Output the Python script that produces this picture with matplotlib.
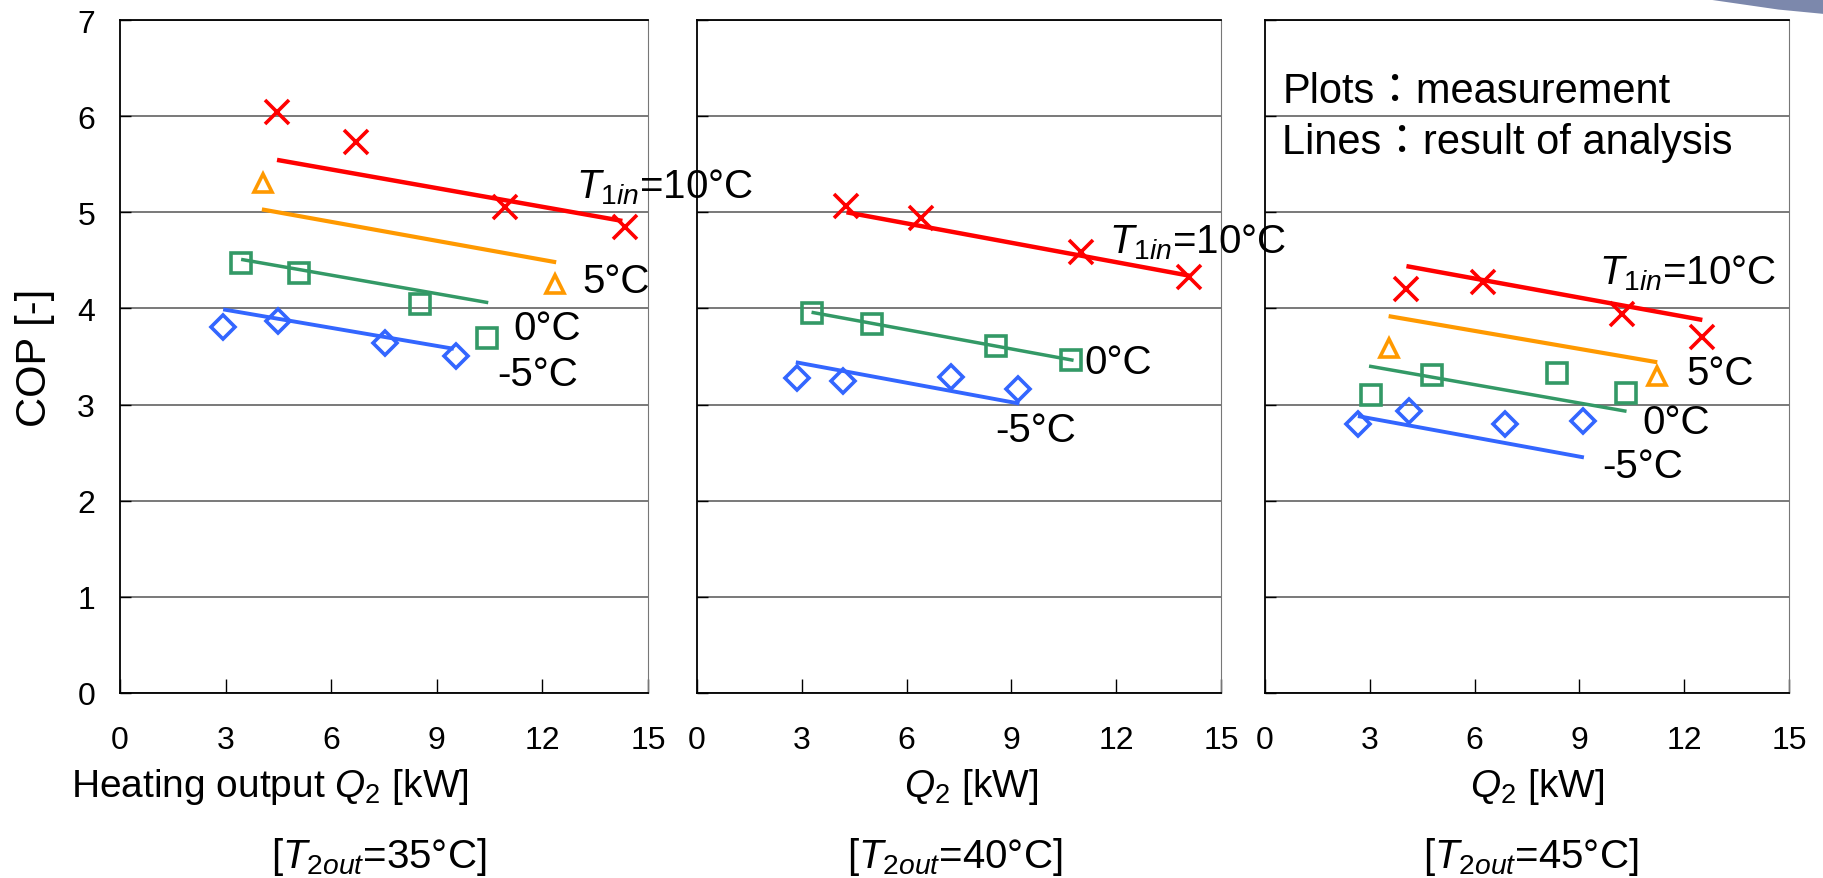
import matplotlib
matplotlib.use("Agg")
import matplotlib.pyplot as plt
from matplotlib.patches import Polygon

plt.rcParams['font.family'] = ['Liberation Sans', 'Noto Sans CJK JP', 'DejaVu Sans']
plt.rcParams['mathtext.fontset'] = 'custom'
plt.rcParams['mathtext.rm'] = 'Liberation Sans'
plt.rcParams['mathtext.it'] = 'Liberation Sans:italic'

# measurements (markers) and analysis lines (two end points) per outlet temperature
# --- T2out = 35 C
p35_m5_x = [2.93, 4.49, 7.53, 9.53]
p35_m5_y = [3.81, 3.87, 3.64, 3.51]
p35_0_x = [3.44, 5.09, 8.52, 10.43]
p35_0_y = [4.47, 4.37, 4.05, 3.69]
p35_5_x = [4.05, 12.37]
p35_5_y = [5.30, 4.25]
p35_10_x = [4.46, 6.69, 10.95, 14.34]
p35_10_y = [6.04, 5.73, 5.05, 4.85]
l35_m5_x, l35_m5_y = [2.93, 9.48], [3.99, 3.58]
l35_0_x, l35_0_y = [3.44, 10.46], [4.51, 4.06]
l35_5_x, l35_5_y = [4.03, 12.39], [5.03, 4.48]
l35_10_x, l35_10_y = [4.46, 14.27], [5.545, 4.91]

# --- T2out = 40 C
p40_m5_x = [2.85, 4.17, 7.26, 9.20]
p40_m5_y = [3.28, 3.24, 3.29, 3.16]
p40_0_x = [3.28, 5.02, 8.55, 10.71]
p40_0_y = [3.95, 3.84, 3.61, 3.46]
p40_10_x = [4.28, 6.42, 11.00, 14.08]
p40_10_y = [5.07, 4.94, 4.59, 4.33]
l40_m5_x, l40_m5_y = [2.83, 9.23], [3.44, 3.01]
l40_0_x, l40_0_y = [3.28, 10.78], [3.96, 3.46]
l40_10_x, l40_10_y = [4.28, 14.10], [5.00, 4.34]

# --- T2out = 45 C
p45_m5_x = [2.66, 4.12, 6.88, 9.10]
p45_m5_y = [2.80, 2.93, 2.80, 2.83]
p45_0_x = [3.03, 4.79, 8.36, 10.33]
p45_0_y = [3.10, 3.31, 3.33, 3.12]
p45_5_x = [3.54, 11.23]
p45_5_y = [3.59, 3.30]
p45_10_x = [4.05, 6.23, 10.23, 12.52]
p45_10_y = [4.20, 4.27, 3.94, 3.70]
l45_m5_x, l45_m5_y = [2.66, 9.13], [2.88, 2.45]
l45_0_x, l45_0_y = [2.98, 10.35], [3.40, 2.93]
l45_5_x, l45_5_y = [3.54, 11.23], [3.92, 3.44]
l45_10_x, l45_10_y = [4.05, 12.52], [4.44, 3.88]

x_ticks = [0, 3, 6, 9, 12, 15]
y_ticks = [0, 1, 2, 3, 4, 5, 6, 7]
conditions = ["35", "40", "45"]

RED = "#ff0000"
ORANGE = "#ff9900"
GREEN = "#339966"
BLUE = "#3366ff"

fig = plt.figure(figsize=(18.24, 8.79), dpi=100)
lefts = [0.0658, 0.3821, 0.6935]
widths = [0.2895, 0.2873, 0.2873]
axes = [fig.add_axes([lefts[i], 0.2105, widths[i], 0.7656]) for i in range(3)]

def draw_series(ax, px, py, lx, ly, color, marker, ms, lw):
    ax.plot(lx, ly, color=color, lw=lw, solid_capstyle='butt', zorder=3)
    ax.plot(px, py, ls='none', marker=marker, ms=ms, mfc='none', mec=color, mew=2.6, zorder=4)

ax = axes[0]
draw_series(ax, p35_m5_x, p35_m5_y, l35_m5_x, l35_m5_y, BLUE, 'D', 12, 2.8)
draw_series(ax, p35_0_x, p35_0_y, l35_0_x, l35_0_y, GREEN, 's', 14, 2.5)
draw_series(ax, p35_5_x, p35_5_y, l35_5_x, l35_5_y, ORANGE, '^', 13, 3)
draw_series(ax, p35_10_x, p35_10_y, l35_10_x, l35_10_y, RED, 'x', 17, 3.2)

ax = axes[1]
draw_series(ax, p40_m5_x, p40_m5_y, l40_m5_x, l40_m5_y, BLUE, 'D', 12, 2.8)
draw_series(ax, p40_0_x, p40_0_y, l40_0_x, l40_0_y, GREEN, 's', 14, 2.5)
draw_series(ax, p40_10_x, p40_10_y, l40_10_x, l40_10_y, RED, 'x', 17, 3.2)

ax = axes[2]
draw_series(ax, p45_m5_x, p45_m5_y, l45_m5_x, l45_m5_y, BLUE, 'D', 12, 2.8)
draw_series(ax, p45_0_x, p45_0_y, l45_0_x, l45_0_y, GREEN, 's', 14, 2.5)
draw_series(ax, p45_5_x, p45_5_y, l45_5_x, l45_5_y, ORANGE, '^', 13, 3)
draw_series(ax, p45_10_x, p45_10_y, l45_10_x, l45_10_y, RED, 'x', 17, 3.2)

for i, ax in enumerate(axes):
    ax.set_xlim(0, 15)
    ax.set_ylim(0, 7)
    ax.set_xticks(x_ticks)
    ax.set_yticks(y_ticks)
    ax.patch.set_facecolor('none')
    ax.grid(axis='y', color='#555555', lw=1.1, zorder=1)
    ax.set_axisbelow(True)
    ax.tick_params(axis='x', direction='in', length=10, width=1, labelsize=23, pad=23)
    ax.tick_params(axis='y', direction='in', length=8, width=1, labelsize=23, pad=18)
    for s in ['left', 'top', 'bottom']:
        ax.spines[s].set_color('black')
        ax.spines[s].set_linewidth(1.3)
    ax.spines['right'].set_color('#777777')
    if i > 0:
        ax.tick_params(axis='y', labelleft=False)
    ax.text([0.284, 0.523, 0.519][i], -0.138,
            ("Heating output " if i == 0 else "") + r"$Q_2$ [kW]",
            transform=ax.transAxes, ha='center', va='center', fontsize=28)
    ax.text([0.490, 0.491, 0.508][i], -0.242,
            "[" + r"$T_{2out}$" + "=" + conditions[i] + "°C]",
            transform=ax.transAxes, ha='center', va='center', fontsize=29)

axes[0].set_ylabel("COP [-]", fontsize=30, labelpad=16)

lab = dict(fontsize=29, va='center', ha='left', zorder=5, clip_on=False)
axes[0].text(12.95, 5.27, r"$T_{1in}$=10°C", **lab)
axes[0].text(13.14, 4.29, "5°C", **lab)
axes[0].text(11.17, 3.80, "0°C", **lab)
axes[0].text(10.73, 3.32, "-5°C", **lab)

axes[1].text(11.8, 4.70, r"$T_{1in}$=10°C", **lab)
axes[1].text(11.1, 3.44, "0°C", **lab)
axes[1].text(8.55, 2.74, "-5°C", **lab)

axes[2].text(9.56, 4.38, r"$T_{1in}$=10°C", **lab)
axes[2].text(12.06, 3.33, "5°C", **lab)
axes[2].text(10.8, 2.82, "0°C", **lab)
axes[2].text(9.66, 2.36, "-5°C", **lab)
note = dict(lab, fontsize=30)
axes[2].text(0.5, 6.26, "Plots：measurement", **note)
axes[2].text(0.5, 5.73, "Lines：result of analysis", **note)

# slide decoration in the top right corner
fig.patches.append(Polygon([(0.935, 1.0), (1.0, 1.0), (1.0, 0.983), (0.975, 0.988)],
                           closed=True, transform=fig.transFigure,
                           facecolor='#5b6a98', edgecolor='none', alpha=0.8))

fig.savefig("out.png", dpi=100)
